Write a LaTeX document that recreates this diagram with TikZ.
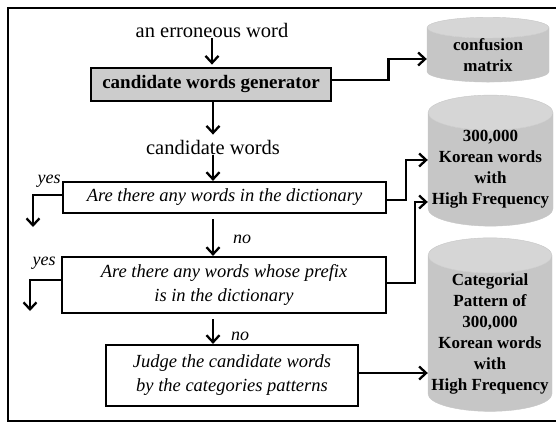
\documentclass[tikz,border=0pt]{standalone}
\usepackage{fontspec}
\setmainfont{Liberation Serif}
\usetikzlibrary{arrows.meta,positioning,shapes.geometric}

\begin{document}
\begin{tikzpicture}[x=1pt,y=-1pt]
\tikzset{
  procbox/.style={rectangle,draw,line width=2.2pt,inner sep=2pt,align=center,font=\fontsize{18.5}{24}\selectfont\itshape},
  genbox/.style={rectangle,draw,line width=2.8pt,fill=gray!40,inner sep=2pt,font=\fontsize{19}{22}\selectfont\bfseries},
  dbnode/.style={cylinder,shape border rotate=90,aspect=0.3,draw=gray!45,cylinder uses custom fill,cylinder body fill=gray!45,cylinder end fill=gray!32,align=center,inner sep=0pt,font=\fontsize{17}{21}\selectfont\bfseries},
  plaintext/.style={inner sep=1pt,font=\fontsize{20.5}{24}\selectfont},
  directed/.style={-{Straight Barb[length=7pt,width=13pt]},line width=2.3pt},
  branchlabel/.style={inner sep=1pt,font=\fontsize{18}{22}\selectfont\itshape}
}
\useasboundingbox (0,0) rectangle (556,423);
\draw[line width=2pt] (556,8) -- (8,8) -- (8,421) -- (556,421);

\node[plaintext] (n_input) at (212,30) {an erroneous word};
\node[genbox,minimum width=240pt,minimum height=33pt] (n_gen) at (211,84.5) {candidate words generator};
\node[plaintext] (n_cand) at (213,147) {candidate words};
\node[procbox,minimum width=323pt,minimum height=31pt] (n_q1) at (224.5,197.5) {Are there any words in the dictionary};
\node[procbox,minimum width=324pt,minimum height=56pt] (n_q2) at (224,285) {Are there any words whose prefix\\is in the dictionary};
\node[procbox,minimum width=252pt,minimum height=61pt] (n_judge) at (232,375.5) {Judge the candidate words\\by the categories patterns};

\node[dbnode,minimum width=122pt,minimum height=56pt] (n_conf) at (488,55) {confusion\\matrix};
\node[dbnode,minimum width=125pt,minimum height=115pt] (n_kor) at (490.5,169.5) {300,000\\Korean words\\with\\High Frequency};
\node[dbnode,minimum width=124pt,minimum height=147pt] (n_cat) at (490,333.5) {Categorial\\Pattern of\\300,000\\Korean words\\with\\High Frequency};

\node[branchlabel,anchor=east] (n_yes1) at (n_q1.north west) {yes};
\node[branchlabel,anchor=north east,xshift=-4pt] (n_yes2) at (n_q2.north west) {yes};
\coordinate (c_yes1) at (33,227);
\coordinate (c_yes2) at (30,311);

% main line
\draw[directed,shorten >=2pt] (n_input.south) -- (n_input.south |- n_gen.north);
\draw[directed,shorten >=4pt] (n_gen.south -| n_cand.north) -- (n_cand.north);
\draw[directed] (n_cand.south) -- (n_cand.south |- n_q1.north);
\draw[directed,shorten <=5pt] (n_q1.south -| n_cand) -- node[branchlabel,right=18pt,pos=0.6] {no} (n_q2.north -| n_cand);
\draw[directed,shorten <=5pt] (n_q2.south -| n_cand) -- node[branchlabel,right=16pt,pos=0.75] {no} (n_judge.north -| n_cand);

% yes branches
\draw[directed] ([yshift=2.5pt]n_q1.west) -| (c_yes1);
\draw[directed] ([yshift=5pt]n_q2.west) -| (c_yes2);

% to the stores
\draw[directed] ([yshift=4.5pt]n_gen.east) -- ++(56,0) |- ([yshift=-4pt]n_conf.west);
\draw[directed] ([yshift=-2.5pt]n_q1.east) -- ++(19,0) |- ([yshift=9.5pt]n_kor.west);
\draw[directed] ([yshift=2pt]n_q2.east) -- ++(28,0) |- ([yshift=-32.5pt]n_kor.west);
\draw[directed] ([yshift=2.5pt]n_judge.east) -- ([yshift=2.5pt]n_judge.east -| n_cat.west);
\end{tikzpicture}
\end{document}
